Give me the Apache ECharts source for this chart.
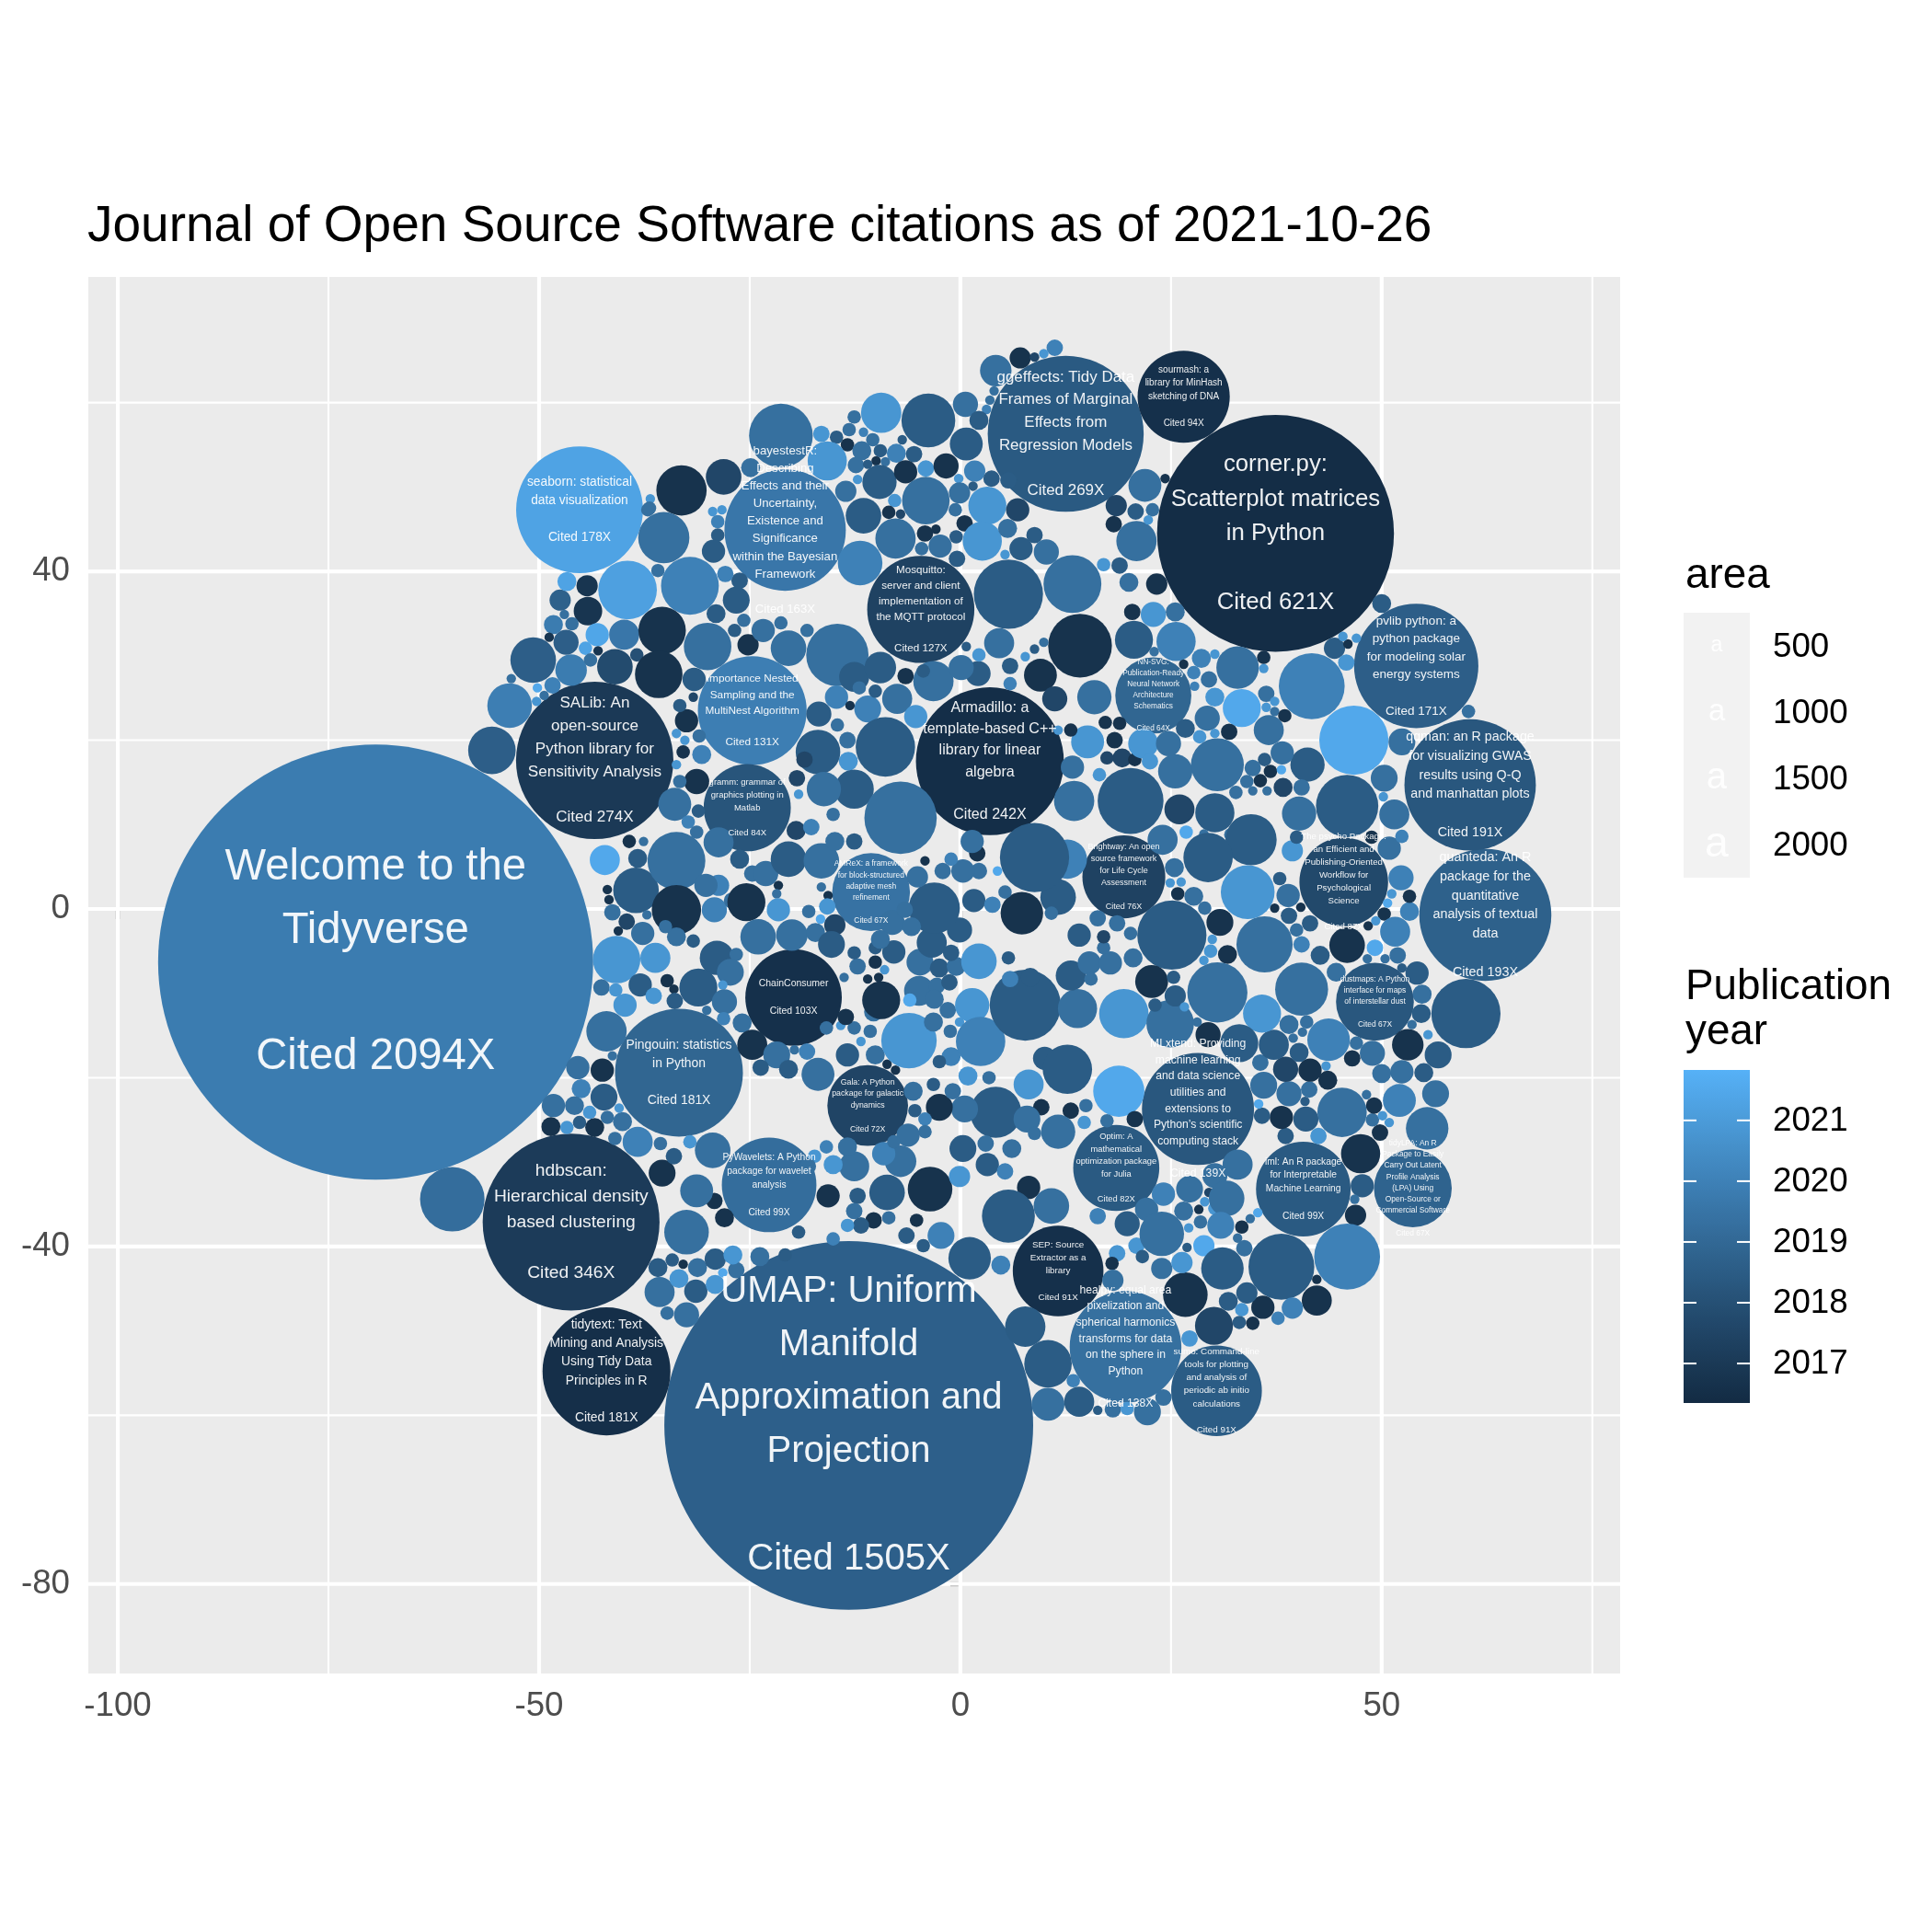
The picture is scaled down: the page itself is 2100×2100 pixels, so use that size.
<!DOCTYPE html>
<html><head><meta charset="utf-8">
<script src="https://cdn.jsdelivr.net/npm/echarts@6/dist/echarts.min.js"></script>
<style>html,body{margin:0;padding:0;background:#fff}#chart{width:2100px;height:2100px}</style>
</head><body><div id="chart"></div>
<script>
const chartTitle = 'Journal of Open Source Software citations as of 2021-10-26';
const xTickValues = [-100, -50, 0, 50];
const yTickValues = [-80, -40, 0, 40];
const xMinorValues = [-75, -25, 25, 75];
const yMinorValues = [-60, -20, 20, 60];
const areaLegendValues = [500, 1000, 1500, 2000];
const yearLegendTicks = [2017, 2018, 2019, 2020, 2021];
const yearRange = [2016.35, 2021.83];

// labelled papers: title lines
const labelTitles = [
 'Welcome to the\nTidyverse',
 'UMAP: Uniform\nManifold\nApproximation and\nProjection',
 'corner.py:\nScatterplot matrices\nin Python',
 'hdbscan:\nHierarchical density\nbased clustering',
 'SALib: An\nopen-source\nPython library for\nSensitivity Analysis',
 'ggeffects: Tidy Data\nFrames of Marginal\nEffects from\nRegression Models',
 'Armadillo: a\ntemplate-based C++\nlibrary for linear\nalgebra',
 'quanteda: An R\npackage for the\nquantitative\nanalysis of textual\ndata',
 'qqman: an R package\nfor visualizing GWAS\nresults using Q-Q\nand manhattan plots',
 'Pingouin: statistics\nin Python',
 'tidytext: Text\nMining and Analysis\nUsing Tidy Data\nPrinciples in R',
 'seaborn: statistical\ndata visualization',
 'pvlib python: a\npython package\nfor modeling solar\nenergy systems',
 'bayestestR:\nDescribing\nEffects and their\nUncertainty,\nExistence and\nSignificance\nwithin the Bayesian\nFramework',
 'MLxtend: Providing\nmachine learning\nand data science\nutilities and\nextensions to\nPython\u2019s scientific\ncomputing stack',
 'healpy: equal area\npixelization and\nspherical harmonics\ntransforms for data\non the sphere in\nPython',
 'Importance Nested\nSampling and the\nMultiNest Algorithm',
 'Mosquitto:\nserver and client\nimplementation of\nthe MQTT protocol',
 'ChainConsumer',
 'PyWavelets: A Python\npackage for wavelet\nanalysis',
 'iml: An R package\nfor Interpretable\nMachine Learning',
 'sourmash: a\nlibrary for MinHash\nsketching of DNA',
 'SEP: Source\nExtractor as a\nlibrary',
 'sumo: Command-line\ntools for plotting\nand analysis of\nperiodic ab initio\ncalculations',
 'The psycho Package:\nan Efficient and\nPublishing-Oriented\nWorkflow for\nPsychological\nScience',
 'gramm: grammar of\ngraphics plotting in\nMatlab',
 'Optim: A\nmathematical\noptimization package\nfor Julia',
 'Brightway: An open\nsource framework\nfor Life Cycle\nAssessment',
 'Gala: A Python\npackage for galactic\ndynamics',
 'AMReX: a framework\nfor block-structured\nadaptive mesh\nrefinement',
 'dustmaps: A Python\ninterface for maps\nof interstellar dust',
 'tidyLPA: An R\nPackage to Easily\nCarry Out Latent\nProfile Analysis\n(LPA) Using\nOpen-Source or\nCommercial Software',
 'NN-SVG:\nPublication-Ready\nNeural Network\nArchitecture\nSchematics'
];
// [x, y, citations, publication year]
const labelCircles = [
 [-69.4,-6.3,2094,2019.8],[-13.25,-61.2,1505,2018.65],[37.4,44.5,621,2016.45],[-46.2,-37.1,346,2017.1],
 [-43.4,17.6,274,2017.0],[12.5,56.3,269,2018.4],[3.5,17.5,242,2016.5],[62.3,-0.7,193,2018.7],
 [60.5,14.7,191,2018.3],[-33.4,-19.4,181,2018.9],[-42.0,-54.8,181,2016.55],[-45.2,47.3,178,2021.3],
 [54.1,28.8,171,2018.6],[-20.8,44.9,163,2019.6],[28.2,-23.7,139,2018.3],[19.6,-51.9,138,2019.3],
 [-24.7,23.5,131,2019.9],[-4.7,35.5,127,2017.4],[-19.8,-10.5,103,2016.6],[-22.7,-32.7,99,2019.2],
 [40.7,-33.2,99,2018.4],[26.5,60.7,94,2016.6],[11.6,-42.9,91,2016.6],[30.4,-57.1,91,2018.5],
 [45.5,3.2,87,2017.7],[-25.3,12.0,84,2018.2],[18.5,-30.7,82,2018.4],[19.4,3.8,76,2017.4],
 [-11.0,-23.3,72,2017.5],[-10.6,2.0,67,2019.4],[49.2,-11.0,67,2018.3],[53.7,-33.1,67,2018.8],
 [22.9,25.3,64,2018.9]
];
// unlabelled papers: [x, y, citations, publication year]
const otherCircles = [
 [-55.6,18.8,25,2018.6],[-53.5,24.1,22,2019.9],[-50.7,29.5,23,2018.6],[-46.2,28.3,11,2019.8],[-41.0,28.7,14,2017.8],[-39.5,37.8,38,2021.2],[-39.9,32.5,10,2019.6],[-44.2,35.3,9,2016.8],[-44.3,38.3,5,2016.8],[-43.1,32.5,6,2021.4],[-46.8,31.6,7,2018.6],[-47.5,36.6,5,2018.7],[-48.3,33.7,4,2019.8],[-46.7,38.8,4,2021.3],[-46.1,33.8,2,2019.3],[-47.0,34.9,1,2019.3],[-44.5,30.9,2,2021.3],[-43.9,29.5,2,2019.3],[-43.0,30.6,1,2016.8],[-38.4,30.1,2,2018.0],[-48.4,26.5,3,2020.0],[-50.2,26.2,1,2021.5],[-49.4,25.3,1,2019.3],[-50.3,24.6,1,2020.8],[-53.3,27.3,1,2019.3],[-48.8,32.2,1,2016.8],[-37.1,47.3,2,2019.3],[-36.8,48.6,1,2020.8],
 [11.2,66.5,3,2020.0],[7.1,65.3,5,2016.7],[8.8,65.4,1,2017.6],[9.9,65.8,1,2020.8],[4.2,63.8,11,2019.3],[4.0,61.4,1,2019.3],[3.5,60.3,1,2019.3],[3.1,59.2,1,2020.0],[0.6,59.8,7,2019.3],[2.2,57.9,4,2018.5],[0.7,55.1,12,2018.5],[-3.8,57.9,32,2018.5],[-9.4,58.8,18,2020.8],[-12.6,58.3,2,2019.3],[-13.2,56.8,2,2019.3],[-14.7,55.9,2,2018.5],[-16.5,56.3,3,2020.8],[-11.5,56.5,1,2020.0],[-10.4,55.6,2,2019.3],[-13.4,55.0,2,2016.7],[-11.7,54.3,4,2019.3],[-9.5,54.3,2,2018.5],[-7.6,54.0,4,2020.0],[-5.5,53.9,3,2018.5],[-6.9,55.6,1,2018.5],[-15.8,53.1,17,2020.8],[-21.3,56.1,45,2019.3],[-12.4,52.6,3,2019.3],[-10.0,53.1,1,2016.7],[-11.0,52.7,1,2018.5],[-8.9,53.0,1,2019.3],[-9.6,50.6,13,2018.5],[-6.5,51.8,6,2016.7],[-4.1,52.2,3,2020.8],[-1.7,52.5,7,2016.7],[1.7,51.9,5,2020.0],[3.7,51.0,3,2018.5],[-0.2,51.0,1,2020.8],[1.5,50.1,1,2018.5],[-4.1,48.4,25,2019.3],[-0.1,49.3,5,2019.3],[3.2,47.8,16,2020.8],[-7.8,48.4,2,2020.8],[-8.5,47.0,2,2016.7],[-7.1,46.8,1,2017.6],[-11.5,46.6,14,2018.5],[-13.6,49.5,5,2019.3],[-12.2,50.9,1,2020.8],[-7.7,43.9,18,2019.3],[-11.9,41.0,22,2020.0],[-4.2,44.5,3,2016.7],[-2.9,45.0,1,2016.7],[-0.5,44.1,2,2018.5],[0.5,45.7,3,2016.7],[-0.6,47.3,2,2019.3],[-2.4,43.0,6,2019.3],[-4.6,42.7,2,2019.3],[2.6,43.6,17,2020.8],[5.6,45.1,4,2019.3],[6.8,47.3,6,2017.6],[8.8,44.3,3,2018.5],[7.2,42.7,6,2018.5],[10.2,42.3,7,2019.3],[5.7,50.8,3,2018.5],[5.3,42.0,1,2020.8],[-0.4,41.5,3,2018.5],
 [5.7,37.3,53,2018.5],[13.3,38.5,37,2019.3],[14.2,31.2,45,2016.7],[9.5,27.7,12,2016.7],[4.6,31.5,10,2019.3],[2.1,27.9,7,2018.5],[2.2,30.1,2,2020.8],[0.7,31.1,1,2018.5],[5.9,28.8,3,2018.5],[5.9,26.7,2,2020.0],[7.7,29.9,1,2020.8],[8.8,30.8,1,2018.5],[9.9,31.6,1,2019.3],[11.2,24.9,7,2017.6],[15.9,25.1,13,2019.3],[15.1,19.8,12,2020.8],[13.3,16.8,6,2019.3],[13.5,12.8,18,2019.3],[20.2,12.8,48,2018.5],[20.9,43.6,18,2019.3],[18.5,47.8,5,2017.6],[18.2,45.6,3,2016.7],[20.8,47.1,3,2018.5],[17.0,40.8,2,2020.8],[18.9,40.7,3,2018.5],
 [-14.6,30.1,43,2019.3],[-20.4,30.9,14,2019.3],[-25.2,31.3,5,2016.7],[-23.4,33.0,6,2019.3],[-26.8,33.0,2,2018.5],[-25.7,34.2,2,2019.3],[-21.3,33.9,2,2019.3],[-18.2,33.0,2,2019.3],[-30.0,31.1,25,2019.3],[-26.6,36.6,8,2018.5],[-29.0,35.0,4,2018.5],[-32.1,38.3,37,2020.0],[-35.4,33.0,25,2016.7],[-35.8,27.8,25,2016.7],[-31.6,27.2,6,2018.5],[-32.5,22.3,6,2016.7],[-33.3,24.1,2,2018.5],[-31.7,25.1,1,2017.6],[-33.7,20.8,1,2020.8],[-30.7,18.3,4,2020.0],[-32.9,18.6,2,2016.7],[-32.7,20.0,1,2020.8],[-31.0,20.5,2,2019.3],[-31.3,15.1,7,2016.7],[-33.3,15.1,2,2019.3],[-33.7,17.1,1,2020.8],[-33.9,12.4,12,2019.3],[-31.1,11.6,2,2018.5],[-32.3,10.3,2,2020.0],[-31.3,9.1,2,2019.3],
 [-16.8,23.1,7,2018.5],[-14.7,25.1,6,2020.0],[-12.6,27.5,10,2018.5],[-14.6,21.8,2,2019.3],[-13.4,20.0,3,2019.3],[-13.3,17.5,4,2020.8],[-16.9,18.6,22,2018.5],[-11.0,23.7,8,2020.0],[-12.0,26.2,2,2019.3],[-10.1,25.8,2,2018.5],[-13.1,24.1,1,2016.7],[-8.9,19.2,39,2018.5],[-7.5,24.9,10,2019.3],[-5.3,22.8,6,2020.8],[-6.5,27.6,3,2016.7],[-9.5,28.6,11,2018.5],[-3.2,27.0,18,2019.3],[0.1,28.6,7,2019.3],[-4.4,28.2,2,2018.5],[-12.6,14.2,17,2018.5],[-16.2,14.2,13,2019.3],[-18.5,17.7,3,2017.6],[-19.4,15.5,3,2017.6],[-19.2,13.6,1,2020.8],[-7.1,10.8,58,2019.3],[-19.5,9.3,4,2017.6],[-17.7,9.7,3,2020.0],[-15.1,11.2,2,2019.3],
 [17.2,22.1,2,2016.7],[18.9,22.0,2,2016.7],[18.3,20.0,3,2016.7],[19.2,17.9,4,2017.6],[20.7,17.7,2,2016.7],[17.4,17.9,2,2017.6],[16.5,15.9,2,2020.8],[21.7,19.6,10,2020.8],[11.6,21.2,1,2020.8],[13.1,21.2,2,2016.7],
 [-28.1,51.2,14,2017.6],[-33.1,49.6,28,2016.7],[-28.8,45.9,2,2020.0],[-28.8,44.3,2,2018.5],[-29.3,42.4,6,2018.5],[-26.2,38.9,3,2018.5],[-27.9,39.7,3,2020.0],[-24.9,52.3,4,2019.3],[-35.2,44.0,29,2019.3],[-36.9,47.5,2,2019.3],[-35.9,40.1,2,2019.3],[-29.4,47.1,1,2020.8],[-28.3,47.3,1,2020.8],
 [21.9,50.2,12,2019.3],[24.3,51.0,1,2016.7],[22.8,47.3,2,2019.3],[22.3,46.1,1,2020.8],[20.0,38.7,4,2019.3],[23.3,38.5,5,2016.7],[20.4,35.2,3,2016.7],[22.9,34.9,7,2020.8],[25.5,35.2,4,2019.3],[20.6,31.9,16,2018.5],[25.6,31.7,17,2020.0],[23.0,30.5,1,2019.3],[26.5,29.0,1,2016.7],[28.6,29.7,4,2020.0],[30.2,30.2,1,2020.8],[32.9,28.6,20,2019.3],[36.0,29.8,2,2016.7],[36.0,28.5,1,2020.8],[29.5,27.2,3,2019.3],[27.7,28.0,2,2020.0],[27.8,26.4,1,2020.0],[30.2,25.1,4,2020.8],[33.4,23.8,16,2021.5],[36.3,25.5,3,2019.3],[36.3,23.9,1,2020.8],[37.3,24.6,1,2020.8],[37.3,23.4,1,2019.3],[38.5,22.9,2,2016.7],[29.3,22.6,7,2019.3],[26.7,21.4,4,2018.5],[28.4,20.4,2,2020.8],[30.2,20.8,1,2020.8],[31.9,21.0,3,2016.7],[36.6,21.2,10,2019.3],[41.7,26.4,48,2020.0],[44.4,30.9,5,2018.5],[46.0,31.4,1,2016.7],[45.4,32.3,1,2020.8],[47.0,32.1,1,2020.8],[45.8,29.2,3,2020.8],[50.0,36.2,4,2018.5],[46.7,20.0,53,2021.5],[52.4,19.8,8,2019.3],[60.3,23.4,2,2019.3],[41.2,17.1,13,2018.5],[38.2,18.5,6,2019.3],[36.1,17.7,2,2018.5],[36.8,16.3,2,2016.7],[35.6,15.2,2,2016.7],[38.1,16.5,1,2021.5],[38.3,14.4,4,2017.6],[34.0,15.1,2,2019.3],[36.4,14.0,1,2019.3],[34.7,14.0,1,2019.3],[32.7,13.8,2,2019.3],[34.7,16.7,3,2019.3],[30.5,17.1,31,2019.3],[25.5,16.3,13,2019.3],[24.7,19.6,7,2019.3],[22.5,17.5,3,2020.8],[26.0,11.8,10,2017.6],[30.2,11.4,17,2018.5],[26.8,9.1,2,2021.5],[28.9,8.9,1,2019.3],[32.1,8.8,2,2019.3],[40.2,11.3,13,2019.3],[45.9,12.2,43,2018.5],[40.5,14.4,3,2019.3],[50.3,15.5,8,2019.3],[51.5,11.2,10,2019.3],[50.2,13.3,1,2020.8],
 [-60.3,-34.4,46,2019.2],[-42.2,5.8,10,2021.5],[-39.3,8.0,2,2016.7],[-38.3,6.0,4,2018.5],[-37.6,8.0,1,2019.3],[-38.5,2.2,23,2018.5],[-41.9,2.3,1,2016.7],[-41.7,1.1,1,2016.7],[-41.3,-0.4,3,2019.3],[-39.6,-1.5,3,2017.6],[-40.6,-2.6,1,2016.7],[-37.7,-2.9,6,2019.3],[-37.2,-0.7,1,2019.3],[-40.8,-6.0,25,2020.8],[-42.6,-9.3,3,2019.3],[-40.9,-9.6,2,2020.8],[-39.8,-11.4,6,2020.8],[-38.0,-9.0,6,2018.5],[-42.0,-14.5,18,2019.3],[-41.3,-17.4,1,2019.3],[-45.4,-18.8,6,2019.3],[-42.5,-19.1,6,2016.7],[-45.0,-21.3,4,2020.0],[-42.3,-22.3,8,2018.5],[-48.3,-23.3,6,2019.3],[-45.8,-23.3,4,2019.3],[-44.0,-24.1,2,2020.8],[-45.2,-25.3,2,2018.5],[-48.6,-25.8,4,2016.7],[-46.7,-25.9,2,2020.8],[-43.4,-25.9,4,2016.7],[-41.9,-24.7,2,2019.3],[-40.1,-25.2,4,2019.3],[-41.0,-27.2,2,2019.3],[-38.3,-27.6,10,2020.0],[-40.5,-23.6,1,2020.8],
 [-33.7,5.7,37,2019.3],[-28.7,7.9,10,2019.3],[-26.2,5.9,4,2018.5],[-24.7,4.2,3,2019.3],[-23.1,4.2,7,2019.3],[-21.6,2.8,1,2016.7],[-21.8,1.8,1,2019.3],[-20.4,5.9,14,2018.5],[-16.5,5.7,14,2019.3],[-14.9,8.0,4,2019.3],[-12.6,8.0,3,2018.5],[-15.7,1.6,1,2016.7],[-16.5,2.6,1,2019.3],[-18.0,-0.3,2,2019.3],[-15.8,0.3,3,2020.8],[-16.6,-1.2,1,2021.5],[-14.9,-1.9,5,2017.6],[-33.7,-0.1,27,2016.7],[-29.2,-0.1,7,2020.0],[-28.7,2.8,5,2020.0],[-27.1,1.0,3,2019.3],[-30.2,2.8,6,2019.3],[-25.4,0.8,16,2016.7],[-21.6,-0.1,6,2020.8],[-24.0,-3.3,14,2019.3],[-20.0,-3.1,11,2019.3],[-17.2,-2.8,4,2019.3],[-15.3,-4.2,8,2018.5],[-28.9,-5.8,13,2018.5],[-36.2,-5.8,10,2020.8],[-33.7,-3.3,4,2019.3],[-35.0,-2.1,2,2019.3],[-31.7,-3.8,2,2018.5],[-26.6,-5.4,2,2019.3],[-27.3,-7.5,8,2019.3],[-31.1,-9.3,16,2018.5],[-34.8,-8.5,2,2016.7],[-34.0,-9.5,1,2016.7],[-33.9,-10.9,3,2018.5],[-36.4,-10.3,3,2020.8],[-28.2,-9.0,1,2020.8],[-28.0,-11.0,7,2019.3],[-25.9,-13.5,4,2019.3],[-28.1,-13.0,2,2020.0],[-30.1,-12.0,1,2019.3],[-24.7,-16.1,10,2016.7],[-21.8,-17.3,8,2019.3],[-19.7,-16.7,1,2019.3],[-18.2,-16.9,3,2020.0],[-23.7,-18.8,3,2018.5],[-20.4,-19.0,4,2018.5],[-16.9,-19.6,12,2019.3],[-13.4,-17.3,6,2018.5],[-10.1,-17.3,4,2019.3],[-8.7,-18.4,1,2016.7],[-7.7,-19.1,1,2016.7],[-15.9,-14.1,2,2019.3],[-14.2,-13.8,1,2020.8],[-12.6,-14.1,2,2019.3],[-11.8,-15.7,1,2020.8],[-10.7,-14.5,2,2019.3],[-10.3,-12.2,4,2019.3],[-13.6,-12.8,3,2016.7],[-9.4,-10.8,16,2016.7],[-6.1,-15.6,34,2020.8],[-13.8,-8.1,1,2019.3],[-11.0,-8.3,1,2016.7],[-9.7,-8.1,1,2016.7],[-9.0,-7.2,1,2020.8],[-12.2,-6.8,3,2019.3],[-10.1,-6.3,2,2016.7],[-10.1,-4.6,2,2018.5],[-7.9,-5.1,6,2018.5],[-4.8,-6.3,8,2019.3],[-4.9,-9.7,10,2019.3],[-6.0,-10.8,2,2021.5],[-2.5,-7.0,4,2018.5],[-2.8,-9.1,3,2019.3],[-1.3,-8.7,3,2018.5],[-0.5,-6.8,4,2019.3],[-3.1,-10.7,4,2019.3],[-3.2,-13.4,4,2019.3],[-1.5,-12.0,3,2019.3],[-0.1,-13.4,1,2020.8],[-1.2,-14.5,2,2019.3],[-1.1,-17.5,4,2020.0],[-2.5,-18.1,2,2018.5],[-3.4,-4.0,10,2018.5],[-1.1,-5.2,3,2018.5],[-0.1,-2.5,7,2018.5],
 [2.2,-6.2,14,2020.8],[1.4,-11.4,13,2020.8],[2.4,-15.7,27,2020.0],[7.7,-11.4,56,2018.5],[13.9,-11.8,17,2019.3],[19.4,-12.4,27,2020.8],[13.1,-7.9,10,2018.5],[15.3,-6.4,6,2019.3],[17.8,-6.4,6,2019.3],[20.5,-5.8,4,2019.3],[17.0,-4.6,2,2019.3],[15.5,-8.3,2,2019.3],[14.1,-3.1,6,2018.5],[16.3,-1.1,3,2019.3],[18.6,-1.7,3,2019.3],[20.2,-2.9,2,2019.3],[17.0,-3.3,2,2017.6],[11.6,1.4,14,2018.5],[10.4,3.6,2,2020.8],[10.8,-0.5,2,2019.3],[12.7,5.9,17,2020.0],[8.8,6.1,53,2018.5],[7.3,-0.5,20,2016.7],[1.6,1.0,6,2018.5],[3.8,0.5,3,2020.0],[4.4,4.5,1,2021.5],[2.2,4.5,3,2019.3],[2.0,6.6,3,2016.7],[5.3,2.0,2,2019.3],[-3.1,0.1,29,2018.5],[0.3,4.5,6,2019.3],[-1.1,5.9,2,2020.0],[-2.1,4.5,3,2019.3],[-4.2,5.7,1,2016.7],[-5.1,3.8,5,2019.3],[1.4,8.0,6,2019.3],[-8.1,-1.6,7,2019.3],[-6.6,-0.1,3,2019.3],[-5.8,-2.1,4,2019.3],[-9.5,-3.6,4,2019.3],[-12.6,-5.2,2,2018.5],[5.7,-5.8,2,2018.5],[5.9,-8.3,3,2020.0],[8.3,-8.1,4,2018.5],
 [10.0,-17.7,6,2018.5],[12.7,-19.0,27,2018.5],[8.1,-20.8,10,2020.8],[18.8,-21.6,29,2021.5],[4.2,-24.1,29,2018.5],[9.6,-23.5,3,2016.7],[13.1,-23.9,3,2016.7],[14.9,-23.3,2,2019.3],[17.4,-25.1,2,2019.3],[20.7,-24.9,3,2016.7],[14.7,-25.3,2,2020.8],[7.9,-24.9,8,2019.3],[11.6,-26.4,13,2019.3],[0.5,-23.7,8,2019.3],[-2.5,-23.5,8,2016.7],[-0.9,-21.6,3,2019.3],[0.9,-19.8,4,2020.8],[3.4,-20.0,2,2019.3],[-3.2,-20.8,2,2018.5],[-5.6,-21.6,4,2019.3],[-5.4,-23.9,2,2018.5],[-4.2,-24.9,2,2020.0],[-4.2,-26.4,2,2019.3],[-6.2,-26.8,6,2019.3],[-7.1,-29.9,11,2019.3],[-3.6,-33.2,22,2016.7],[0.3,-28.4,8,2018.5],[-0.1,-31.7,5,2020.8],[3.2,-30.3,6,2018.5],[5.3,-31.1,3,2020.0],[8.1,-33.0,6,2016.7],[5.7,-36.4,31,2018.5],[10.8,-35.2,14,2019.3],[3.0,-27.8,3,2019.3],[6.1,-28.4,4,2019.3],[8.8,-26.6,2,2019.3],[1.1,-41.4,20,2018.5],[4.8,-42.2,4,2020.0],[18.6,-40.8,3,2020.8],[18.0,-42.0,2,2016.7],[19.8,-37.3,7,2018.5],[16.3,-36.4,3,2020.0],[22.1,-35.6,6,2019.3],[20.9,-39.9,3,2020.8],
 [-8.7,-33.6,14,2018.5],[-12.2,-34.0,3,2018.5],[-12.6,-35.8,3,2019.3],[-10.3,-36.9,3,2016.7],[-8.5,-36.6,2,2019.3],[-6.4,-38.7,3,2018.5],[-4.4,-39.9,2,2018.5],[-2.3,-38.7,8,2020.0],[-5.2,-36.9,2,2016.7],[-15.7,-34.0,6,2016.7],[-12.6,-30.5,10,2019.3],[-15.1,-30.3,4,2020.8],[-13.4,-28.2,4,2019.3],[-15.9,-28.2,2,2020.0],[-17.3,-29.3,2,2020.8],[-18.1,-30.5,3,2019.3],[-9.1,-29.0,6,2020.0],[-7.9,-27.6,2,2019.3],[-11.8,-37.5,3,2018.5],[-13.4,-37.5,2,2020.8],[-15.1,-39.1,2,2020.0],[-19.2,-38.3,2,2018.5],[-20.8,-41.0,2,2018.5],[-29.2,-34.6,3,2016.7],[-28.0,-36.6,4,2016.7],[-32.5,-38.3,22,2019.3],[-31.3,-33.4,12,2019.3],[-35.4,-31.3,8,2016.7],[-34.0,-29.3,3,2018.5],[-35.6,-27.8,2,2019.3],[-32.1,-27.6,2,2020.8],[-29.4,-28.6,14,2019.3],
 [60.0,-12.4,53,2018.5],[56.4,-21.9,8,2019.3],[55.4,-26.0,20,2019.3],[52.1,-22.7,12,2020.0],[53.1,-16.1,11,2016.7],[56.7,-17.3,8,2018.5],[52.4,-19.3,6,2019.3],[55.0,-19.4,4,2018.5],[50.0,-19.5,4,2019.3],[48.9,-17.1,7,2019.3],[46.5,-17.7,3,2016.7],[47.0,-15.9,2,2019.3],[47.5,-29.0,17,2016.7],[47.7,-32.8,6,2018.5],[46.9,-36.3,5,2016.7],[46.8,-34.4,1,2019.3],[49.8,-26.5,3,2016.7],[48.9,-25.0,2,2019.3],[50.1,-24.5,1,2020.8],[50.9,-25.3,1,2020.8],[49.1,-23.3,3,2016.7],[48.2,-22.0,1,2019.3],[45.3,-24.1,27,2019.3],[43.6,-20.3,4,2016.7],[43.4,-18.6,1,2020.8],[42.5,-26.9,3,2020.8],[41.0,-24.9,7,2018.5],[41.4,-21.4,3,2019.3],[40.9,-22.8,1,2018.5],[38.6,-26.9,3,2018.5],[38.1,-24.7,6,2016.7],[39.0,-21.9,7,2019.3],[35.8,-24.5,3,2018.5],[35.4,-23.1,1,2021.5],[36.0,-20.9,8,2019.3],[35.6,-18.2,3,2019.3],[38.6,-19.0,7,2017.6],[41.5,-19.1,6,2016.7],[37.2,-16.1,10,2018.5],[40.2,-17.0,4,2018.5],[40.6,-14.6,1,2019.3],[39.5,-15.3,1,2019.3],[41.1,-13.4,2,2019.3],[39.0,-13.7,4,2019.3],[43.7,-15.5,20,2020.0],[35.8,-12.4,16,2020.8],[40.5,-9.5,31,2019.3],[44.6,-7.5,4,2019.3],[42.7,-5.5,4,2018.5],[45.9,-4.3,14,2016.7],[49.2,-4.6,3,2021.5],[48.3,-5.9,1,2019.3],[50.4,-5.9,1,2019.3],[50.3,-0.6,2,2016.7],[48.4,-2.0,1,2016.7],[49.3,-1.4,1,2020.8],[51.6,-2.7,10,2020.0],[51.9,-5.5,3,2019.3],[52.4,-7.0,1,2018.5],[54.2,-7.6,6,2018.5],[54.8,-10.1,4,2019.3],[54.7,-12.4,4,2018.5],[55.5,-14.9,1,2020.8],[53.6,-13.7,1,2019.3],[53.3,-0.3,4,2020.0],[53.3,1.5,2,2016.7],[52.3,3.7,7,2020.0],[51.2,1.8,1,2020.8],[50.7,0.7,1,2021.5],[50.9,7.2,6,2019.3],[52.4,8.6,2,2020.0],[48.8,8.5,2,2016.7],
 [41.5,-1.7,3,2018.5],[40.5,-4.2,3,2020.0],[39.0,-0.8,3,2018.5],[37.3,0.1,1,2016.7],[40.4,0.2,1,2016.7],[39.9,-2.5,2,2019.3],[36.1,-4.2,35,2019.3],[34.1,2.0,32,2020.8],[38.9,1.6,6,2019.3],[37.9,3.6,2,2018.5],[39.4,6.9,5,2020.8],[39.9,8.5,2,2018.5],[34.5,8.2,29,2018.5],[29.4,6.1,27,2018.5],[24.0,8.2,10,2019.3],[27.7,1.5,4,2019.3],[29.0,0.1,2,2019.3],[25.8,1.8,2,2016.7],[24.9,3.1,1,2020.8],[26.2,3.2,1,2020.8],[25.4,4.9,4,2019.3],[25.1,-3.1,53,2018.5],[30.8,-1.6,8,2016.7],[31.7,-5.4,4,2016.7],[29.7,-5.0,2,2020.8],[29.9,-3.6,1,2020.8],[28.9,-6.1,1,2020.8],[30.5,-9.9,40,2019.3],[33.1,-15.9,16,2018.5],[29.4,-14.9,7,2016.7],[24.9,-13.6,25,2019.3],[22.7,-8.6,12,2016.7],[25.5,-10.3,5,2018.5],[25.3,-8.1,2,2018.5],[23.1,-11.4,2,2018.5],[26.6,-11.6,1,2020.8],[28.1,-13.4,1,2019.3],
 [30.2,-31.6,7,2019.3],[27.2,-33.2,8,2019.3],[29.5,-33.6,1,2017.6],[29.0,-34.7,1,2020.8],[28.3,-35.6,1,2016.7],[26.5,-35.8,4,2019.3],[30.2,-35.5,2,2020.8],[31.6,-34.3,14,2019.3],[32.9,-30.3,10,2019.3],[34.4,-36.7,1,2019.3],[35.3,-36.0,1,2021.5],[33.4,-37.7,2,2016.7],[32.9,-39.0,1,2019.3],[33.7,-40.2,3,2019.3],[30.9,-37.5,8,2020.0],[28.5,-37.1,2,2019.3],[28.9,-39.9,5,2021.5],[27.1,-37.8,1,2020.8],[26.9,-40.1,1,2018.5],[23.9,-38.5,22,2019.3],[24.1,-33.8,6,2020.0],[21.6,-41.2,2,2018.5],[23.9,-42.6,5,2019.3],[31.1,-42.6,20,2018.5],[38.1,-42.4,48,2018.5],[45.9,-41.2,48,2020.0],[42.3,-46.4,10,2016.7],[42.3,-43.9,1,2016.7],[39.4,-47.3,5,2020.0],[37.7,-48.5,2,2020.0],[35.9,-47.2,6,2016.7],[34.0,-45.5,5,2018.5],[33.4,-47.5,2,2020.8],[31.8,-46.5,4,2018.5],[26.7,-45.7,22,2016.7],[30.1,-49.4,16,2017.6],[33.1,-49.0,2,2018.5],[34.7,-49.1,2,2016.7],
 [-35.7,-45.4,10,2019.3],[-33.4,-43.8,4,2020.8],[-31.4,-45.3,6,2018.5],[-32.5,-48.1,7,2019.3],[-34.8,-47.9,2,2019.3],[-35.9,-42.5,4,2018.5],[-34.2,-41.6,2,2018.5],[-32.9,-42.1,1,2016.7],[-31.2,-42.5,4,2019.3],[-29.1,-44.5,4,2020.8],[-29.1,-41.5,5,2018.5],[-26.6,-42.8,3,2019.3],[-28.2,-43.1,1,2021.5],[-27.0,-41.0,4,2020.8],[-23.8,-41.2,4,2019.3],
 [7.7,-49.5,18,2018.5],[10.4,-53.9,25,2018.5],[10.4,-58.7,12,2019.3],[14.1,-58.4,10,2018.5],[13.4,-55.9,2,2020.0],[16.3,-59.4,1,2018.5],[18.1,-59.3,3,2019.3],[19.8,-59.2,2,2020.8],[22.2,-59.6,8,2019.3],[24.1,-57.9,3,2019.3],[18.1,-44.0,5,2019.3],[26.3,-41.9,5,2020.8],[27.2,-50.9,3,2020.8]
];

// ---- colour scale: ggplot2 default continuous gradient (#132B43 -> #56B1F7) interpolated in CIELAB
function hex2rgb(h){return [parseInt(h.slice(1,3),16),parseInt(h.slice(3,5),16),parseInt(h.slice(5,7),16)];}
function s2l(c){c/=255;return c<=0.04045?c/12.92:Math.pow((c+0.055)/1.055,2.4);}
function l2s(c){const v=c<=0.0031308?12.92*c:1.055*Math.pow(c,1/2.4)-0.055;return Math.round(Math.max(0,Math.min(1,v))*255);}
function rgb2lab(rgb){const R=s2l(rgb[0]),G=s2l(rgb[1]),B=s2l(rgb[2]);
 const X=(0.4124*R+0.3576*G+0.1805*B)/0.95047,Y=(0.2126*R+0.7152*G+0.0722*B),Z=(0.0193*R+0.1192*G+0.9505*B)/1.08883;
 const f=t=>t>0.008856?Math.cbrt(t):7.787*t+16/116;return [116*f(Y)-16,500*(f(X)-f(Y)),200*(f(Y)-f(Z))];}
function lab2hex(lab){const fy=(lab[0]+16)/116,fx=fy+lab[1]/500,fz=fy-lab[2]/200;
 const fi=t=>t*t*t>0.008856?t*t*t:(t-16/116)/7.787;const X=fi(fx)*0.95047,Y=fi(fy),Z=fi(fz)*1.08883;
 const R=3.2406*X-1.5372*Y-0.4986*Z,G=-0.9689*X+1.8758*Y+0.0415*Z,B=0.0557*X-0.2040*Y+1.0570*Z;
 return '#'+[l2s(R),l2s(G),l2s(B)].map(v=>v.toString(16).padStart(2,'0')).join('');}
const lowLab=rgb2lab(hex2rgb('#132B43')),highLab=rgb2lab(hex2rgb('#56B1F7'));
const palette=[];for(let i=0;i<=24;i++){const t=i/24;palette.push(lab2hex([0,1,2].map(k=>lowLab[k]+(highLab[k]-lowLab[k])*t)));}

const FONT='"Liberation Sans", Arial, Helvetica, sans-serif';
const TEXT_COL='rgba(255,255,255,0.93)';

// gridline items [x, y, orientation(0 vertical / 1 horizontal), major]
const gridItems=[].concat(
 xTickValues.map(v=>[v,0,0,1]), xMinorValues.map(v=>[v,0,0,0]),
 yTickValues.map(v=>[0,v,1,1]), yMinorValues.map(v=>[0,v,1,0]));

const chart=echarts.init(document.getElementById('chart'),null,{renderer:'canvas',width:2100,height:2100});

// legend (graphic)
const G=[];
G.push({type:'text',left:1832,top:603,style:{text:'area',font:'45.8px '+FONT,fill:'#000'}});
G.push({type:'rect',shape:{x:1830,y:666,width:72,height:288},style:{fill:'#F2F2F2'}});
areaLegendValues.forEach((v,i)=>{
 const cy=702+72*i;
 G.push({type:'text',x:1866,y:cy,style:{text:'a',fontSize:1.036*Math.sqrt(v),fontFamily:FONT,fill:TEXT_COL,align:'center',verticalAlign:'middle'}});
 G.push({type:'text',x:1927,y:cy+2,style:{text:String(v),fontSize:36.7,fontFamily:FONT,fill:'#000',align:'left',verticalAlign:'middle'}});
});
G.push({type:'text',x:1832,y:1073,style:{text:'Publication',fontSize:45.8,fontFamily:FONT,fill:'#000',verticalAlign:'middle'}});
G.push({type:'text',x:1832,y:1122,style:{text:'year',fontSize:45.8,fontFamily:FONT,fill:'#000',verticalAlign:'middle'}});
const barTop=1163,barH=362;
G.push({type:'rect',shape:{x:1830,y:barTop,width:72,height:barH},style:{fill:new echarts.graphic.LinearGradient(0,0,0,1,
 palette.slice().reverse().map((c,i)=>({offset:i/(palette.length-1),color:c})))}});
yearLegendTicks.forEach(yr=>{
 const ty=barTop+(yearRange[1]-yr)/(yearRange[1]-yearRange[0])*barH;
 G.push({type:'line',shape:{x1:1830,y1:ty,x2:1844,y2:ty},style:{stroke:'#fff',lineWidth:2}});
 G.push({type:'line',shape:{x1:1888,y1:ty,x2:1902,y2:ty},style:{stroke:'#fff',lineWidth:2}});
 G.push({type:'text',x:1927,y:ty+1,style:{text:String(yr),fontSize:36.7,fontFamily:FONT,fill:'#000',verticalAlign:'middle'}});
});

const option={
 animation:false,
 backgroundColor:'#ffffff',
 title:{text:chartTitle,left:95,top:219,padding:0,textStyle:{fontSize:55,fontWeight:'normal',color:'#000',fontFamily:FONT,lineHeight:55}},
 grid:{left:96,top:301,width:1665,height:1518,show:true,backgroundColor:'#EBEBEB',borderWidth:0,containLabel:false},
 xAxis:{type:'value',min:-103.5,max:78.3,
  axisLine:{show:false},splitLine:{show:false},
  axisTick:{show:true,length:11,customValues:xTickValues,lineStyle:{color:'#333333',width:4.2}},
  axisLabel:{show:true,customValues:xTickValues,fontSize:36.7,color:'#4D4D4D',margin:17,fontFamily:FONT}},
 yAxis:{type:'value',min:-90.6,max:74.9,
  axisLine:{show:false},splitLine:{show:false},
  axisTick:{show:true,length:11,customValues:yTickValues,lineStyle:{color:'#333333',width:4.2}},
  axisLabel:{show:true,customValues:yTickValues,fontSize:36.7,color:'#4D4D4D',margin:20,fontFamily:FONT}},
 visualMap:{type:'continuous',show:false,seriesIndex:1,dimension:3,min:yearRange[0],max:yearRange[1],inRange:{color:palette}},
 graphic:G,
 series:[
  {type:'custom',silent:true,z:1,data:gridItems,encode:{x:0,y:1},
   renderItem:(params,api)=>{
    const cs=params.coordSys;const w=api.value(3)===1?4.2:2.1;
    if(api.value(2)===0){const px=api.coord([api.value(0),0])[0];
     return {type:'line',shape:{x1:px,y1:cs.y,x2:px,y2:cs.y+cs.height},style:{stroke:'#FFFFFF',lineWidth:w}};}
    const py=api.coord([0,api.value(1)])[1];
    return {type:'line',shape:{x1:cs.x,y1:py,x2:cs.x+cs.width,y2:py},style:{stroke:'#FFFFFF',lineWidth:w}};
   }},
  {type:'custom',silent:true,z:2,data:labelCircles.concat(otherCircles),encode:{x:0,y:1},
   renderItem:(params,api)=>{
    const c=api.coord([api.value(0),api.value(1)]);
    const r=api.size([Math.sqrt(api.value(2)/Math.PI),0])[0];
    return {type:'circle',shape:{cx:c[0],cy:c[1],r:r},style:{fill:api.visual('color')}};
   }},
  {type:'custom',silent:true,z:3,data:labelCircles.map((d,i)=>[d[0],d[1],d[2],i]),encode:{x:0,y:1},
   renderItem:(params,api)=>{
    const c=api.coord([api.value(0),api.value(1)]);
    const r=api.size([Math.sqrt(api.value(2)/Math.PI),0])[0];
    const fs=0.2*r;
    const txt=labelTitles[api.value(3)]+'\n\nCited '+api.value(2)+'X';
    return {type:'text',x:c[0],y:c[1],style:{text:txt,fill:TEXT_COL,fontSize:fs,lineHeight:fs*1.45,fontFamily:FONT,align:'center',verticalAlign:'middle'}};
   }}
 ]
};
chart.setOption(option);
</script></body></html>
